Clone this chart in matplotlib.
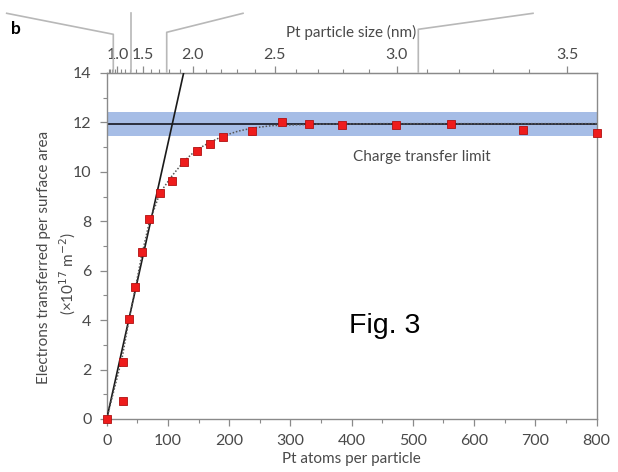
import numpy as np
import matplotlib
matplotlib.use("Agg")
import matplotlib.pyplot as plt
from matplotlib.lines import Line2D
from matplotlib.ticker import FixedLocator, MultipleLocator

plt.rcParams['font.family'] = ['Lato', 'DejaVu Sans']

# ---- data ----
atoms = [0, 26, 26, 36, 46, 57, 69, 87, 107, 127, 147, 169, 190, 237, 287, 331, 385, 472, 563, 680, 800]
electrons = [0, 0.74, 2.32, 4.04, 5.33, 6.77, 8.1, 9.14, 9.63, 10.38, 10.86, 11.12, 11.43,
             11.66, 12.02, 11.94, 11.9, 11.9, 11.94, 11.7, 11.58]

fit_x = [0, 25, 36, 46, 57, 69, 87, 107, 127, 147, 169, 190, 215, 240, 270, 300, 350, 450, 600, 800]
fit_y = [0, 2.45, 3.95, 5.2, 6.6, 7.9, 9.15, 9.85, 10.45, 10.9, 11.2, 11.45, 11.65, 11.78,
         11.87, 11.9, 11.93, 11.95, 11.95, 11.95]

linear_x = [0, 140]
linear_y = [0, 15.6]

limit_value = 11.93
limit_band = (11.46, 12.42)

size_ticks = [1.0, 1.5, 2.0, 2.5, 3.0, 3.5]
size_labels = ['1.0', '1.5', '2.0', '2.5', '3.0', '3.5']
size_minor = [round(0.6 + 0.1 * i, 1) for i in range(31)]
atoms_per_nm3 = 17.55

W, H = 618, 472
fig = plt.figure(figsize=(W / 100, H / 100), dpi=100)
ax = fig.add_axes([106.7 / W, 1 - 419 / H, (596.5 - 106.7) / W, (419 - 73) / H])

txt = '#4a4a4a'
spine_c = '#8a8a8a'

ax.axhspan(limit_band[0], limit_band[1], color='#a6bde6', zorder=1, lw=0)
ax.axhline(limit_value, color='#2a2f3d', lw=1.4, zorder=2)
ax.plot(linear_x, linear_y, color='#1a1a1a', lw=1.2, zorder=3)
ax.plot(fit_x, fit_y, color='#555555', lw=1.1, ls=(0, (1, 1.2)), zorder=3)
ax.plot(atoms, electrons, ls='none', marker='s', ms=6, mfc='#ee1c1c', mec='#b01010',
        mew=0.6, zorder=4, clip_on=False)

ax.set_xlim(0, 800)
ax.set_ylim(0, 14)
ax.xaxis.set_major_locator(MultipleLocator(100))
ax.xaxis.set_minor_locator(MultipleLocator(50))
ax.yaxis.set_major_locator(MultipleLocator(2))
ax.yaxis.set_minor_locator(MultipleLocator(1))

for s in ax.spines.values():
    s.set_color(spine_c)
    s.set_linewidth(1.0)

ax.tick_params(axis='both', which='major', direction='out', length=5, width=0.9,
               color=spine_c, labelcolor=txt, labelsize=11.5)
ax.tick_params(axis='both', which='minor', direction='out', length=3, width=0.8, color=spine_c)
ax.tick_params(axis='x', which='major', pad=6)
ax.tick_params(axis='y', which='major', pad=6)

ax.set_xlabel('Pt atoms per particle', color=txt, fontsize=11, labelpad=3)

fig.text(44 / W, 1 - 257 / H, 'Electrons transferred per surface area', rotation=90,
         ha='center', va='center', color=txt, fontsize=11)
fig.text(68 / W, 1 - 274 / H, '(×10$^{17}$ m$^{-2}$)', rotation=90,
         ha='center', va='center', color=txt, fontsize=11)

sec = ax.secondary_xaxis('top', functions=(lambda n: np.cbrt(np.asarray(n) / atoms_per_nm3),
                                           lambda d: atoms_per_nm3 * np.asarray(d) ** 3))
sec.xaxis.set_major_locator(FixedLocator(size_ticks))
sec.set_xticklabels(size_labels)
sec.xaxis.set_minor_locator(FixedLocator(size_minor))
sec.spines['top'].set_color(spine_c)
sec.tick_params(which='major', direction='out', length=5, width=0.9, color=spine_c,
                labelcolor=txt, labelsize=11.5, pad=3)
sec.tick_params(which='minor', direction='out', length=3, width=0.8, color=spine_c)
sec.set_xlabel('Pt particle size (nm)', color=txt, fontsize=11, labelpad=8)

ax.text(515, 10.45, 'Charge transfer limit', ha='center', va='baseline', color=txt, fontsize=11)

fig.text(384.5 / W, 1 - 333.3 / H, 'Fig. 3', ha='center', va='baseline', color='black',
         fontsize=20.5, family=['Liberation Sans', 'DejaVu Sans'])
fig.text(16 / W, 1 - 29 / H, 'b', ha='center', va='center', color='black', fontsize=12.5,
         fontweight='bold')

# decorative connector lines from the panel above
gray = '#b8b8b8'
paths = [
    [(6.7, 13.3), (113.3, 34.3), (113.3, 72)],
    [(131, 13.3), (131, 72)],
    [(243, 13.3), (166.7, 32.3), (166.7, 72)],
    [(533, 13.3), (418.3, 29.3), (418.3, 72)],
]
for p in paths:
    xs = [q[0] / W for q in p]
    ys = [1 - q[1] / H for q in p]
    fig.add_artist(Line2D(xs, ys, color=gray, lw=1.2, transform=fig.transFigure))

fig.savefig('out.png', dpi=100)
